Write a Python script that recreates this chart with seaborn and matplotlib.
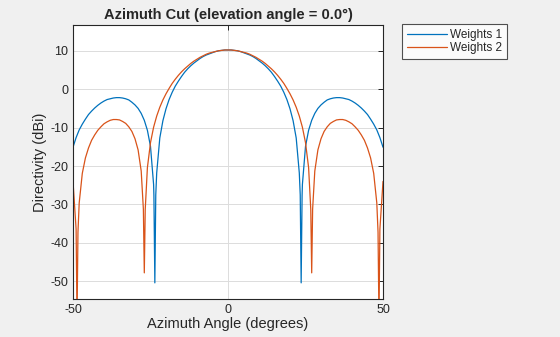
import matplotlib
matplotlib.use("Agg")
import matplotlib.pyplot as plt
import seaborn as sns
import pandas as pd

# ---- data ----
angles_w1 = [-50, -49, -48, -47, -46, -45, -44, -43, -42, -41, -40, -39, -38, -37, -36,
             -35, -34, -33, -32, -31, -30, -29, -28, -27, -26, -25, -24, -23.9, -23.6, -23.3,
             -23, -22, -21, -20, -19, -18, -17, -16, -15, -14, -13, -12, -11, -10, -9, -8,
             -7, -6, -5, -4, -3, -2, -1, 0, 1, 2, 3, 4, 5, 6, 7, 8, 9, 10, 11, 12, 13, 14,
             15, 16, 17, 18, 19, 20, 21, 22, 23, 23.3, 23.6, 23.9, 24, 25, 26, 27, 28, 29,
             30, 31, 32, 33, 34, 35, 36, 37, 38, 39, 40, 41, 42, 43, 44, 45, 46, 47, 48, 49, 50]
dir_w1 = [-15.1, -12.6, -10.6, -9.1, -7.8, -6.6, -5.7, -4.9, -4.2, -3.6, -3.1, -2.7, -2.5, -2.3, -2.2,
          -2.2, -2.3, -2.5, -2.8, -3.4, -4.1, -5.0, -6.3, -8.1, -10.7, -14.9, -24.8, -27.7, -50.4, -27.5,
          -21.8, -12.7, -8.2, -5.1, -2.7, -0.8, 0.8, 2.1, 3.3, 4.4, 5.3, 6.1, 6.8, 7.4, 8.0, 8.5,
          8.9, 9.2, 9.5, 9.8, 10.0, 10.1, 10.2, 10.2, 10.2, 10.1, 10.0, 9.8, 9.5, 9.2, 8.9, 8.5, 8.0, 7.4, 6.8, 6.1, 5.3, 4.4,
          3.3, 2.1, 0.8, -0.8, -2.7, -5.1, -8.2, -12.7, -21.8, -27.5, -50.4, -27.7, -24.8, -14.9, -10.7, -8.1, -6.3, -5.0,
          -4.1, -3.4, -2.8, -2.5, -2.3, -2.2, -2.2, -2.3, -2.5, -2.7, -3.1, -3.6, -4.2, -4.9, -5.7, -6.6, -7.8, -9.1, -10.6, -12.6, -15.1]

angles_w2 = [-50, -49, -48.7, -48.4, -48, -47, -46, -45, -44, -43, -42, -41, -40, -39, -38, -37, -36,
             -35, -34, -33, -32, -31, -30, -29, -28, -27.3, -27.0, -26.7, -26, -25, -24, -23,
             -22, -21, -20, -19, -18, -17, -16, -15, -14, -13, -12, -11, -10, -9, -8,
             -7, -6, -5, -4, -3, -2, -1, 0, 1, 2, 3, 4, 5, 6, 7, 8, 9, 10, 11, 12, 13, 14,
             15, 16, 17, 18, 19, 20, 21, 22, 23, 24, 25, 26, 26.7, 27.0, 27.3, 28, 29,
             30, 31, 32, 33, 34, 35, 36, 37, 38, 39, 40, 41, 42, 43, 44, 45, 46, 47, 48, 48.4, 48.7, 49, 50]
dir_w2 = [-24.0, -36.4, -60.0, -37.2, -29.6, -21.9, -17.9, -15.3, -13.3, -11.9, -10.7, -9.8, -9.0, -8.5, -8.1, -7.9, -7.9,
          -8.0, -8.4, -8.9, -9.8, -11.0, -12.9, -15.8, -21.3, -31.2, -47.8, -31.3, -20.4, -13.9, -9.9, -7.0,
          -4.7, -2.8, -1.2, 0.2, 1.5, 2.6, 3.6, 4.5, 5.3, 6.0, 6.7, 7.3, 7.8, 8.3, 8.7,
          9.1, 9.4, 9.6, 9.8, 10.0, 10.1, 10.2, 10.2, 10.2, 10.1, 10.0, 9.8, 9.6, 9.4, 9.1, 8.7, 8.3, 7.8, 7.3, 6.7, 6.0, 5.3,
          4.5, 3.6, 2.6, 1.5, 0.2, -1.2, -2.8, -4.7, -7.0, -9.9, -13.9, -20.4, -31.3, -47.8, -31.2, -21.3, -15.8,
          -12.9, -11.0, -9.8, -8.9, -8.4, -8.0, -7.9, -7.9, -8.1, -8.5, -9.0, -9.8, -10.7, -11.9, -13.3, -15.3, -17.9, -21.9, -29.6, -37.2, -60.0, -36.4, -24.0]

series_names = ["Weights 1", "Weights 2"]
x_ticks = [-50, 0, 50]
y_ticks = [-50, -40, -30, -20, -10, 0, 10]

df = pd.concat([
    pd.DataFrame({"Azimuth": angles_w1, "Directivity": dir_w1, "Series": series_names[0]}),
    pd.DataFrame({"Azimuth": angles_w2, "Directivity": dir_w2, "Series": series_names[1]}),
], ignore_index=True)

# ---- style ----
sns.set_theme(style="white")
plt.rcParams["font.family"] = ["Liberation Sans", "DejaVu Sans"]
plt.rcParams["axes.unicode_minus"] = False
bg = "#f0f0f0"
dark = "#262626"

fig = plt.figure(figsize=(5.6, 3.37), dpi=100, facecolor=bg)
ax = fig.add_axes([73 / 560, 38 / 337, 310 / 560, 274 / 337])
ax.set_facecolor("white")

palette = {"Weights 1": "#0072BD", "Weights 2": "#D95319"}
sns.lineplot(data=df, x="Azimuth", y="Directivity", hue="Series", palette=palette,
             sort=False, estimator=None, linewidth=0.9, ax=ax, legend=False)

ax.set_xlim(-50, 50)
ax.set_ylim(-54.6, 16.7)
ax.set_xticks(x_ticks)
ax.set_yticks(y_ticks)
ax.grid(True, color="#dcdcdc", linewidth=0.7)
ax.set_axisbelow(True)
ax.tick_params(direction="in", length=3.5, width=0.7, colors=dark, labelsize=9,
               top=True, right=True, labelcolor=dark, pad=3.5)
for sp in ax.spines.values():
    sp.set_color(dark)
    sp.set_linewidth(0.8)

ax.set_xlabel("Azimuth Angle (degrees)", fontsize=10.5, color=dark, labelpad=1)
ax.set_ylabel("Directivity (dBi)", fontsize=10.5, color=dark, labelpad=2)
ax.set_title("Azimuth Cut (elevation angle = 0.0°)", fontsize=10.5, fontweight="bold",
             color=dark, pad=4)

handles = [plt.Line2D([], [], color=palette[n], linewidth=0.9) for n in series_names]
leg = fig.legend(handles, series_names, loc="upper left", bbox_to_anchor=(402 / 560, 1 - 24 / 337),
                 frameon=True, fancybox=False, fontsize=8.5, handlelength=3.4, handletextpad=0.3,
                 borderpad=0.4, labelspacing=0.12, borderaxespad=0)
leg.get_frame().set_edgecolor(dark)
leg.get_frame().set_linewidth(0.8)
leg.get_frame().set_facecolor("white")
for t in leg.get_texts():
    t.set_color(dark)

fig.savefig("out.png", dpi=100, facecolor=bg)
